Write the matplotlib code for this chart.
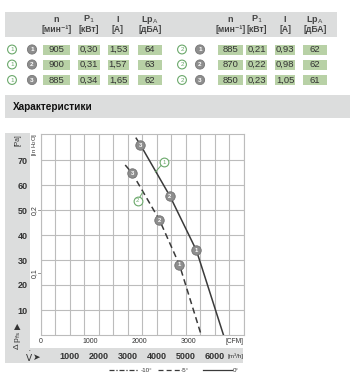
import matplotlib
matplotlib.use('Agg')
import matplotlib.pyplot as plt
import matplotlib.transforms as mtransforms
from matplotlib.patches import Rectangle, Circle
import numpy as np

plt.rcParams['font.family'] = ['Liberation Sans Narrow', 'Liberation Sans', 'DejaVu Sans']

# ---------------- data ----------------
header_top = ['n', 'P$_1$', 'I', 'Lp$_\\mathrm{A}$']
header_unit = ['[мин⁻¹]', '[кВт]', '[A]', '[дБА]']

left_n = [905, 900, 885]
left_p = [0.30, 0.31, 0.34]
left_i = [1.53, 1.57, 1.65]
left_lp = [64, 63, 62]

right_n = [885, 870, 850]
right_p = [0.21, 0.22, 0.23]
right_i = [0.93, 0.98, 1.05]
right_lp = [62, 62, 61]

row_ids = ['1', '2', '3']

# curve 0 deg (solid) : flow m3/h, pressure Pa
flow_0 = [3300, 3448, 4466, 5369, 5483, 6310]
dp_0 = [78.7, 76.0, 55.5, 34.0, 30.0, 0.0]
pts_0_idx = [3, 2, 1]      # operating points 1,2,3
# curve -5 deg (dashed)
flow_5 = [2921, 3162, 4103, 4793, 5541]
dp_5 = [68.0, 64.7, 46.0, 28.0, 0.0]
pts_5_idx = [3, 2, 1]

pa_ticks = [10, 20, 30, 40, 50, 60, 70]
inh2o_ticks = [0.1, 0.2]
cfm_ticks = [0, 1000, 2000, 3000]
m3h_ticks = [1000, 2000, 3000, 4000, 5000, 6000]
legend_labels = ['-10°', '-5°', '0°']

# ---------------- figure ----------------
W, H = 350, 383
fig = plt.figure(figsize=(W / 100, H / 100), dpi=100)
bg = fig.add_axes([0, 0, 1, 1])
bg.set_xlim(0, W)
bg.set_ylim(H, 0)
bg.axis('off')

GRAY = '#dcdddd'
GREEN_CELL = '#b8d1a6'
TXT = '#333333'
GREEN = '#6aa86a'
CIRC_GRAY = '#8e8e8e'


def fmt(v):
    return f'{v:.2f}'.replace('.', ',')


# header band
bg.add_patch(Rectangle((5, 12), 332, 25, color=GRAY, lw=0))
left_cols = [(43, 27), (78, 22), (107.5, 21), (138, 24)]
right_cols = [(218, 25), (246, 21), (275, 20), (303, 24)]
for cols in (left_cols, right_cols):
    for (x0, w), top, unit in zip(cols, header_top, header_unit):
        cx = x0 + w / 2
        bg.text(cx, 19.5, top, ha='center', va='center', fontsize=6.5,
                color='#444444', fontweight='bold')
        bg.text(cx, 29.5, unit, ha='center', va='center', fontsize=6.2,
                color='#444444', fontweight='bold')

row_y = [49.5, 64.5, 80]


def circ(x, y, label, kind):
    if kind == 'green':
        bg.add_patch(Circle((x, y), 4.4, facecolor='white', edgecolor=GREEN, lw=0.8))
        bg.text(x, y + 0.3, label, ha='center', va='center', fontsize=4.6, color=GREEN)
    else:
        bg.add_patch(Circle((x, y), 4.6, facecolor=CIRC_GRAY, edgecolor='#777777', lw=0.6))
        bg.text(x, y + 0.3, label, ha='center', va='center', fontsize=4.6,
                color='white', fontweight='bold')


for side, cols, vals, gx, cx_ in (
        ('1', left_cols, (left_n, left_p, left_i, left_lp), 12, 32),
        ('2', right_cols, (right_n, right_p, right_i, right_lp), 182, 200)):
    n, p, i, lp = vals
    for r in range(3):
        y = row_y[r]
        circ(gx, y, side, 'green')
        circ(cx_, y, row_ids[r], 'gray')
        texts = [str(n[r]), fmt(p[r]), fmt(i[r]), str(lp[r])]
        for (x0, w), t in zip(cols, texts):
            bg.add_patch(Rectangle((x0, y - 5), w, 10, color=GREEN_CELL, lw=0))
            bg.text(x0 + w / 2, y + 0.3, t, ha='center', va='center', fontsize=6.8, color=TXT)

# "Характеристики" band
bg.add_patch(Rectangle((5, 95), 345, 23, color=GRAY, lw=0))
bg.text(13, 106.5, 'Характеристики', ha='left', va='center', fontsize=7.2,
        fontweight='bold', color='#111111')

# chart gray bands
bg.add_patch(Rectangle((5, 133), 25, 230, color=GRAY, lw=0))
bg.add_patch(Rectangle((5, 348), 238, 15, color=GRAY, lw=0))

# ---------------- chart ----------------
ax_l, ax_r, ax_t, ax_b = 40.5, 243.5, 134, 335
ax = fig.add_axes([ax_l / W, (H - ax_b) / H, (ax_r - ax_l) / W, (ax_b - ax_t) / H])
ax.set_zorder(2)
ax.set_xlim(0, 7000)
ax.set_ylim(0, 80.4)
ax.set_xticks(np.arange(0, 7001, 500))
ax.set_yticks(pa_ticks)
ax.set_yticklabels([str(v) for v in pa_ticks], fontsize=6.5, fontweight='bold', color=TXT)
ax.tick_params(axis='both', length=0)
ax.tick_params(axis='y', pad=9)
ax.tick_params(axis='x', labelbottom=False)
ax.grid(True, color='#bcbcbc', lw=0.8)
for s in ax.spines.values():
    s.set_color('#bcbcbc')
    s.set_linewidth(0.8)

ax.plot(flow_0, dp_0, color='#3a3a3a', lw=1.1, zorder=3)
ax.plot(flow_5, dp_5, color='#3a3a3a', lw=1.1, ls=(0, (4, 2.5)), zorder=3)

for flows, dps, idx in ((flow_0, dp_0, pts_0_idx), (flow_5, dp_5, pts_5_idx)):
    for k, j in enumerate(idx):
        ax.plot(flows[j], dps[j], 'o', ms=6.8, mfc=CIRC_GRAY, mec='#707070', mew=0.6, zorder=4)
        ax.text(flows[j], dps[j], str(k + 1), ha='center', va='center', fontsize=4.3,
                color='white', fontweight='bold', zorder=5)

# curve labels (green)
for (lx, ly), (cx2, cy2), lab in (((4255, 69.1), (3962, 65.2), '1'),
                                   ((3355, 53.7), (3530, 57.3), '2')):
    ax.plot([lx, cx2], [ly, cy2], color=GREEN, lw=0.7, zorder=3)
    ax.plot(lx, ly, 'o', ms=6.3, mfc='white', mec=GREEN, mew=0.8, zorder=4)
    ax.text(lx, ly, lab, ha='center', va='center', fontsize=4.3, color=GREEN, zorder=5)

# axis unit / secondary labels
trans_x = mtransforms.blended_transform_factory(ax.transData, bg.transData)
trans_y = mtransforms.blended_transform_factory(bg.transData, ax.transData)
for c in cfm_ticks:
    ax.text(c * 1.699, 341.5, str(c), transform=trans_x, ha='center', va='center',
            fontsize=5, color=TXT)
bg.text(235, 341.5, '[CFM]', ha='center', va='center', fontsize=4.8, color=TXT)
for m in m3h_ticks:
    ax.text(m, 356.5, str(m), transform=trans_x, ha='center', va='center',
            fontsize=6.5, fontweight='bold', color=TXT)
bg.text(235, 356.5, '[m³/h]', ha='center', va='center', fontsize=4.5, color=TXT)

for v in inh2o_ticks:
    ax.text(34.5, v * 249.1, '0,' + str(v)[-1], transform=trans_y, ha='center',
            va='center', rotation=90, fontsize=5, color=TXT)
    ax.plot([37.5, 40.5], [v * 249.1, v * 249.1], transform=trans_y, color='#888888',
            lw=0.6, clip_on=False)

bg.text(17.5, 140, '[Pa]', rotation=90, ha='center', va='center', fontsize=4.8, color=TXT)
bg.text(34.5, 144, '[in H$_2$O]', rotation=90, ha='center', va='center', fontsize=4.3, color=TXT)

bg.text(17.5, 326.5, '▲', ha='center', va='center', fontsize=6, color=TXT,
        family='DejaVu Sans')
bg.text(17.5, 340.5, 'Δ p$_\\mathrm{fs}$', rotation=90, ha='center', va='center',
        fontsize=6, color=TXT)
bg.text(29, 357, '$\\dot{\\mathrm{V}}$', ha='center', va='center', fontsize=6.5, color=TXT)
bg.text(37, 357, '➤', ha='center', va='center', fontsize=6.5, color=TXT, family='DejaVu Sans')

# legend
bg.plot([109, 139], [370, 370], color='#3a3a3a', lw=0.9, ls=(0, (4, 1.5, 1, 1.5)))
bg.text(140.5, 370, legend_labels[0], ha='left', va='center', fontsize=4.5, color=TXT)
bg.plot([158, 180], [370, 370], color='#3a3a3a', lw=0.9, ls=(0, (4, 2.5)))
bg.text(181, 370, legend_labels[1], ha='left', va='center', fontsize=4.5, color=TXT)
bg.plot([203, 232], [370, 370], color='#3a3a3a', lw=0.9)
bg.text(233, 370, legend_labels[2], ha='left', va='center', fontsize=4.5, color=TXT)

fig.savefig('out.png', dpi=100)
